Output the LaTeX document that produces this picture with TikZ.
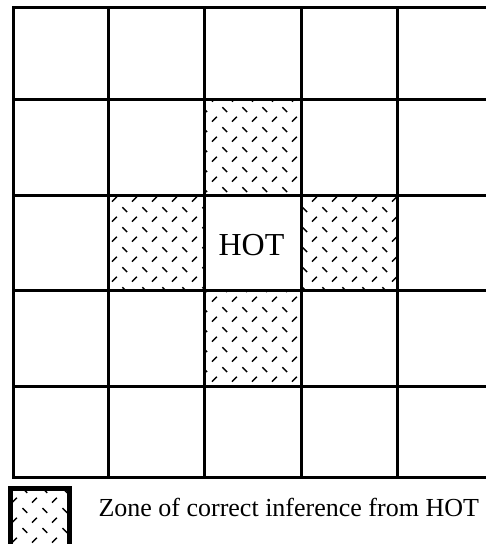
\documentclass[tikz,border=0pt]{standalone}
\usepackage{fontspec}
\setmainfont{Liberation Serif}
\usetikzlibrary{patterns}
\pgfdeclarepatternformonly{dashweave}{\pgfpointorigin}{\pgfpoint{20pt}{20pt}}{\pgfpoint{20pt}{20pt}}{%
  \pgfsetlinewidth{1.5pt}%
  \pgfpathmoveto{\pgfpoint{2.5pt}{17.5pt}}\pgfpathlineto{\pgfpoint{7.5pt}{12.5pt}}%
  \pgfpathmoveto{\pgfpoint{12.5pt}{2.5pt}}\pgfpathlineto{\pgfpoint{17.5pt}{7.5pt}}%
  \pgfusepath{stroke}}

\begin{document}
\begin{tikzpicture}[x=1pt,y=-1pt,line width=3pt,line cap=rect,
    zone/.style={pattern=dashweave}]
  \clip (0,0) rectangle (486,544);
  % hatched cells round HOT
  \fill[zone] (204,99) rectangle (301,195);
  \fill[zone] (108,195) rectangle (204,290);
  \fill[zone] (301,195) rectangle (397,290);
  \fill[zone] (204,290) rectangle (301,386);
  % grid
  \foreach \x in {13,108,204,301,397,493} \draw (\x,7) -- (\x,477);
  \foreach \y in {7,99,195,290,386,477} \draw (13,\y) -- (493,\y);
  \node[anchor=base,font=\fontsize{32}{36}\selectfont] (hot) at (251.5,255) {HOT};
  % legend
  \draw[zone,line width=5pt] (10.5,488.5) rectangle (69.5,550);
  \node[anchor=base west,inner sep=0pt,font=\fontsize{26}{30}\selectfont] (zonelabel) at (97,516) {Zone of correct inference from HOT};
\end{tikzpicture}
\end{document}
